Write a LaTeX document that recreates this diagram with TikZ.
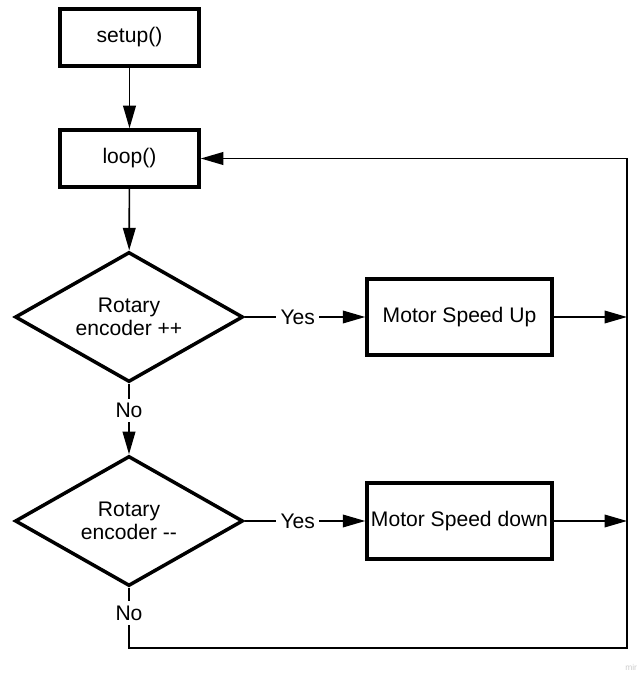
\documentclass[tikz,border=0pt]{standalone}
\usepackage{fontspec}
\setmainfont{Liberation Sans}
\usetikzlibrary{arrows.meta,shapes.geometric,positioning}

\begin{document}
\begin{tikzpicture}[font=\fontsize{15}{16.5}\selectfont,
    box/.style={draw,line width=2.5pt,minimum width=3.475cm,minimum height=1.425cm},
    motor/.style={draw,line width=2.5pt,minimum width=4.625cm,minimum height=1.9cm,inner sep=1pt},
    decide/.style={draw,diamond,aspect=1.75,line width=2.5pt,minimum width=5.7cm,minimum height=3.25cm,align=center,inner sep=0pt},
    flow/.style={line width=1.2pt,-{Triangle[length=16pt,width=9pt]}},
    lbl/.style={fill=white,inner sep=3pt}]
        \useasboundingbox (0,0) rectangle (16.05,16.875);
        \node[box] (setup) at (3.2375,15.9375) {setup()};
        \node[box] (loop) at (3.2375,12.9125) {loop()};
        \node[decide] (enc1) at (3.225,8.95) {Rotary\\encoder ++};
        \node[motor] (up) at (11.4875,8.95) {Motor Speed Up};
        \node[decide] (enc2) at (3.225,3.85) {Rotary\\encoder {-}{-}};
        \node[motor] (down) at (11.4875,3.85) {Motor Speed down};
        \coordinate (rail) at (15.675,0.675);
        \draw[flow] (setup) -- (loop);
        \draw[flow] (loop) -- (enc1);
        \draw[flow] (enc1.east) -- node[lbl,pos=0.44] {Yes} (up.west);
        \draw[flow] (enc1.south) -- node[lbl,pos=0.38] {No} (enc2.north);
        \draw[flow] (enc2.east) -- node[lbl,pos=0.44] {Yes} (down.west);
        \draw[flow] (up.east) -- (up.east -| rail);
        \draw[flow] (down.east) -- (down.east -| rail);
        \draw[flow] (enc2.south) -- node[lbl,pos=0.42] {No} (enc2.south |- rail)
          -- (rail) -- (rail |- loop.east) -- (loop.east);
        \node[text=gray!40,font=\fontsize{6}{7}\selectfont,anchor=east] (mark) at (16.05,0.2) {mir};
      \end{tikzpicture}
\end{document}
